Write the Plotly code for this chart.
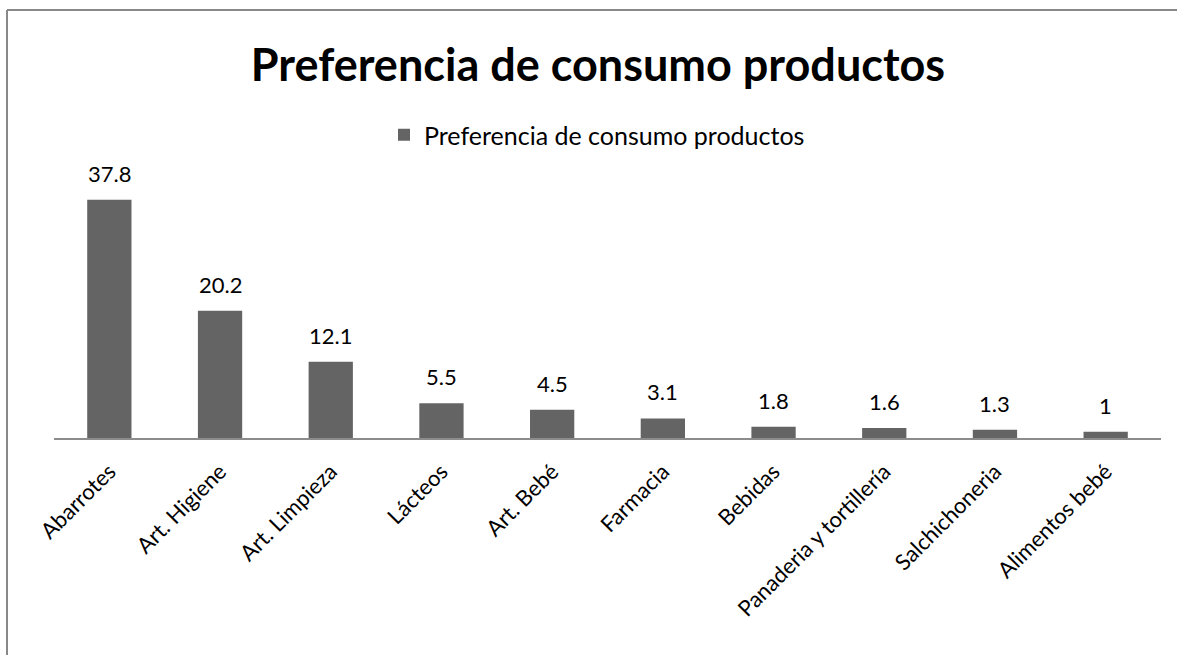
import plotly.graph_objects as go

categories = ["Abarrotes", "Art. Higiene", "Art. Limpieza", "Lácteos", "Art. Bebé",
              "Farmacia", "Bebidas", "Panaderia y tortillería", "Salchichoneria", "Alimentos bebé"]
values = [37.8, 20.2, 12.1, 5.5, 4.5, 3.1, 1.8, 1.6, 1.3, 1]
labels = ["37.8", "20.2", "12.1", "5.5", "4.5", "3.1", "1.8", "1.6", "1.3", "1"]
series_name = "Preferencia de consumo productos"
title_text = "Preferencia de consumo productos"

FONT = "Lato"
BAR = "#646464"

fig = go.Figure()
fig.add_trace(go.Bar(
    x=categories, y=values, name=series_name,
    marker=dict(color=BAR, line=dict(width=0)),
    showlegend=True,
))

for c, v, t in zip(categories, values, labels):
    fig.add_annotation(x=c, y=v, text=t, showarrow=False, yanchor="bottom",
                       yshift=11, font=dict(family=FONT, size=22, color="#000000"))

L, R, T, B = 54, 1161, 186, 438
W, H = 1177, 655

def px(xp):
    return (xp - L) / (R - L)

def py(yp):
    return (B - yp) / (B - T)

# outer chart border (only left and top edges fall inside the picture)
fig.add_shape(type="line", xref="paper", yref="paper",
              x0=px(7), x1=px(7), y0=py(10), y1=py(H),
              line=dict(color="#888888", width=2), layer="below")
fig.add_shape(type="line", xref="paper", yref="paper",
              x0=px(7), x1=px(W), y0=py(10), y1=py(10),
              line=dict(color="#888888", width=2), layer="below")

fig.update_layout(
    width=W, height=H,
    margin=dict(l=L, r=W - R, t=T, b=H - B, autoexpand=False),
    paper_bgcolor="white", plot_bgcolor="white",
    bargap=0.6,
    title=dict(text="<b>" + title_text + "</b>", x=598 / W, y=1 - 65 / H,
               xanchor="center", yanchor="middle", xref="container", yref="container",
               font=dict(family=FONT, size=45, color="#000000")),
    legend=dict(orientation="h", x=px(597), y=py(135), xanchor="center", yanchor="middle",
                font=dict(family=FONT, size=25, color="#000000"), bgcolor="rgba(0,0,0,0)",
                itemwidth=30),
    xaxis=dict(showline=True, linecolor="#8c8c8c", linewidth=2, ticks="",
               tickangle=-45, tickfont=dict(family=FONT, size=22, color="#000000"),
               showgrid=False, ticklabelstandoff=10),
    yaxis=dict(range=[0, 40], visible=False, showgrid=False),
    font=dict(family=FONT),
)

fig.write_html("out.html")
